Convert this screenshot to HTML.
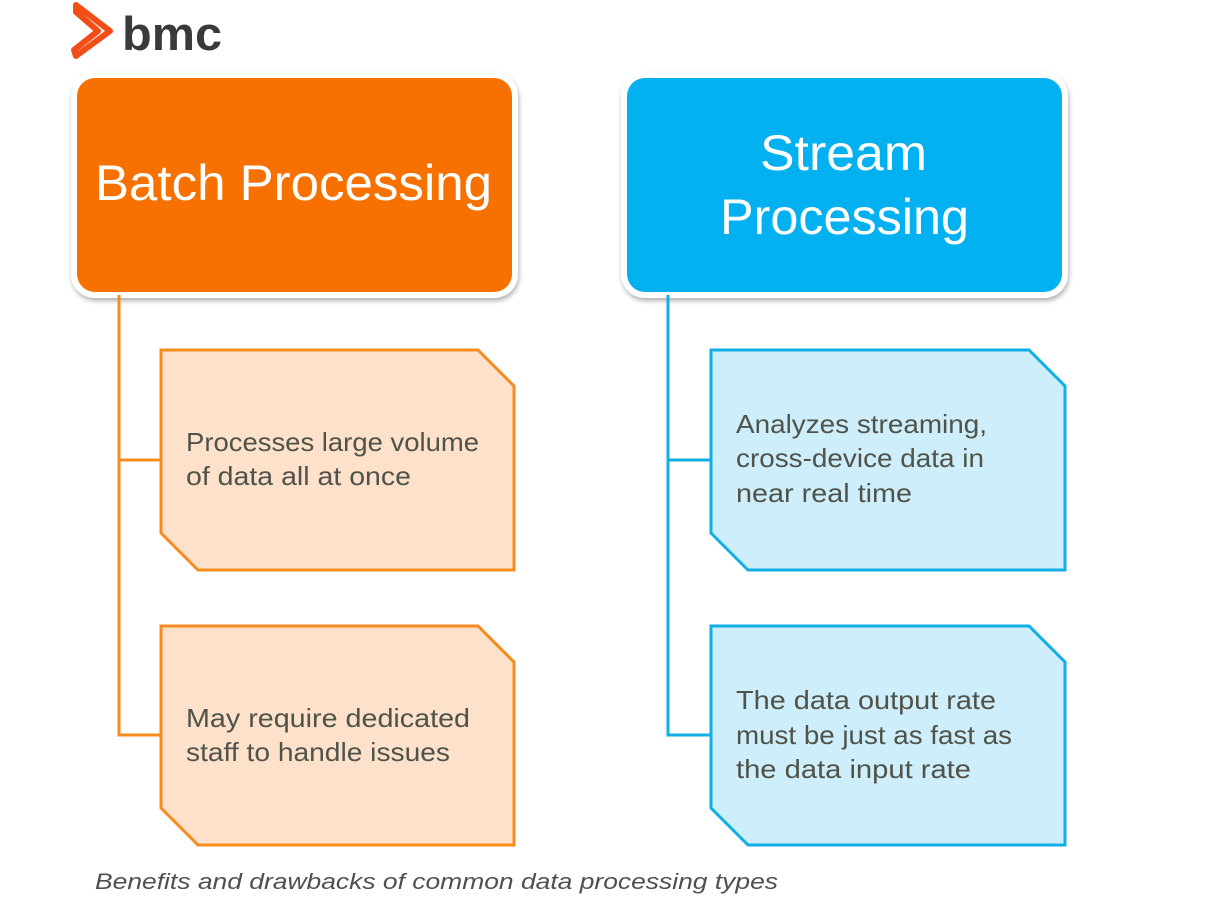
<!DOCTYPE html>
<html><head><meta charset="utf-8"><style>
html,body{margin:0;padding:0;background:#fff;width:1219px;height:916px;overflow:hidden}
svg text{font-family:"Liberation Sans",sans-serif}
</style></head><body>
<svg width="1219" height="916" viewBox="0 0 1219 916" xmlns="http://www.w3.org/2000/svg">
<defs>
<filter id="sh" x="-10%" y="-10%" width="120%" height="125%"><feDropShadow dx="1" dy="3" stdDeviation="2.5" flood-color="#000" flood-opacity="0.3"/></filter>
</defs>
<!-- logo -->
<path d="M76,5 L110,31 L76,56 L74,50 L98,31 L76,12 Z" fill="none" stroke="#f24d16" stroke-width="6" stroke-linejoin="round"/>
<text x="122" y="50" font-size="47" font-weight="bold" fill="#3a3a3c" textLength="100" lengthAdjust="spacingAndGlyphs">bmc</text>

<!-- header boxes -->
<rect x="71" y="72" width="447" height="226" rx="24" fill="#fff" filter="url(#sh)"/>
<rect x="77" y="78" width="435" height="214" rx="18" fill="#f77101"/>
<text x="95" y="200" font-size="50" fill="#fff" textLength="397" lengthAdjust="spacingAndGlyphs">Batch Processing</text>

<rect x="621" y="72" width="447" height="226" rx="24" fill="#fff" filter="url(#sh)"/>
<rect x="627" y="78" width="435" height="214" rx="18" fill="#03b0f0"/>
<text x="760" y="170" font-size="50" fill="#fff" textLength="167" lengthAdjust="spacingAndGlyphs">Stream</text>
<text x="720" y="234" font-size="50" fill="#fff" textLength="249" lengthAdjust="spacingAndGlyphs">Processing</text>

<!-- connectors -->
<g stroke="#f68b1e" stroke-width="3" fill="none">
<path d="M119,295 V735 H161 M119,460 H161"/>
</g>
<g stroke="#12aee6" stroke-width="3" fill="none">
<path d="M668,295 V735 H711 M668,460 H711"/>
</g>

<!-- notes -->
<g stroke="#f68b1e" stroke-width="3" fill="#fde1cb">
<path d="M161,350 H478 L514,386 V570 H198 L161,533 Z"/>
<path d="M161,626 H478 L514,662 V845 H198 L161,808 Z"/>
</g>
<g stroke="#12aee6" stroke-width="3" fill="#cdeefa">
<path d="M711,350 H1029 L1065,386 V570 H748 L711,533 Z"/>
<path d="M711,626 H1029 L1065,662 V845 H748 L711,808 Z"/>
</g>

<g font-size="26" fill="#4f5349">
<text x="186" y="451" textLength="293" lengthAdjust="spacingAndGlyphs">Processes large volume</text>
<text x="186" y="485" textLength="225" lengthAdjust="spacingAndGlyphs">of data all at once</text>
<text x="186" y="727" textLength="284" lengthAdjust="spacingAndGlyphs">May require dedicated</text>
<text x="186" y="761" textLength="264" lengthAdjust="spacingAndGlyphs">staff to handle issues</text>
<text x="736" y="433" textLength="251" lengthAdjust="spacingAndGlyphs">Analyzes streaming,</text>
<text x="736" y="467" textLength="248" lengthAdjust="spacingAndGlyphs">cross-device data in</text>
<text x="736" y="502" textLength="176" lengthAdjust="spacingAndGlyphs">near real time</text>
<text x="736" y="709" textLength="260" lengthAdjust="spacingAndGlyphs">The data output rate</text>
<text x="736" y="744" textLength="276" lengthAdjust="spacingAndGlyphs">must be just as fast as</text>
<text x="736" y="778" textLength="235" lengthAdjust="spacingAndGlyphs">the data input rate</text>
</g>

<text x="95" y="889" font-size="22" font-style="italic" fill="#505050" textLength="683" lengthAdjust="spacingAndGlyphs">Benefits and drawbacks of common data processing types</text>
</svg>
</body></html>
